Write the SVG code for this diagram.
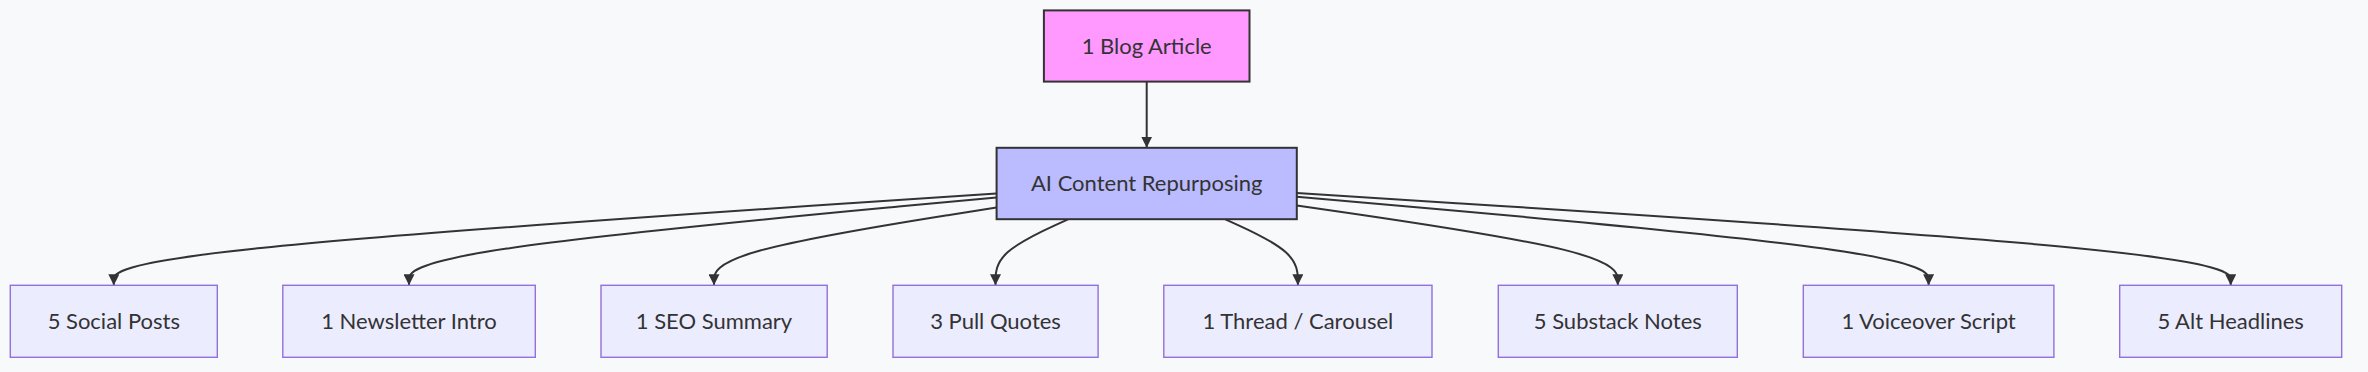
<svg xmlns="http://www.w3.org/2000/svg" width="2368" height="372" viewBox="0 0 2368 372">
<style>
  .lbl{font-family:Lato,"Liberation Sans",sans-serif;font-size:22px;fill:#333;text-anchor:middle}
  .leaf{fill:#ECECFF;stroke:#9370DB;stroke-width:1.4}
  .edge{fill:none;stroke:#333;stroke-width:2}
</style>
<defs>
  <marker id="arrow" viewBox="0 0 10 10" refX="10" refY="5" markerUnits="userSpaceOnUse" markerWidth="11" markerHeight="11" orient="auto">
    <path d="M0,0 L10,5 L0,10 z" fill="#333"/>
  </marker>
</defs>
<rect x="0" y="0" width="2368" height="372" fill="#f8f9fb"/>
<g id="edges">
  <path class="edge" marker-end="url(#arrow)" d="M1146.7,81.7 L1146.7,147.7"/>
  <path class="edge" marker-end="url(#arrow)" d="M996.5,193.5 L849.4,203.3 C702.3,213.1 408,232.7 260.9,248 C113.8,263.2 113.8,274.1 113.8,279.6 L113.8,285.3"/>
  <path class="edge" marker-end="url(#arrow)" d="M996.5,197.5 L898.6,206.6 C800.7,215.8 604.8,234 506.9,248.6 C409,263.2 409,274.1 409,279.6 L409,285.3"/>
  <path class="edge" marker-end="url(#arrow)" d="M996.5,207.4 L949.4,214.9 C902.3,222.4 808.2,237.3 761.1,250.3 C714,263.2 714,274.1 714,279.6 L714,285.3"/>
  <path class="edge" marker-end="url(#arrow)" d="M1068,219.3 L1055.9,224.8 C1043.8,230.3 1019.7,241.3 1007.6,252.3 C995.5,263.2 995.5,274.1 995.5,279.6 L995.5,285.3"/>
  <path class="edge" marker-end="url(#arrow)" d="M1225.4,219.3 L1237.5,224.8 C1249.6,230.3 1273.7,241.3 1285.8,252.3 C1297.9,263.2 1297.9,274.1 1297.9,279.6 L1297.9,285.3"/>
  <path class="edge" marker-end="url(#arrow)" d="M1296.8,205.4 L1350.3,213.2 C1403.8,221 1510.8,236.7 1564.3,249.9 C1617.8,263.2 1617.8,274.1 1617.8,279.6 L1617.8,285.3"/>
  <path class="edge" marker-end="url(#arrow)" d="M1296.8,196.7 L1402.1,206 C1507.4,215.2 1718,233.8 1823.3,248.5 C1928.6,263.2 1928.6,274.1 1928.6,279.6 L1928.6,285.3"/>
  <path class="edge" marker-end="url(#arrow)" d="M1296.8,193 L1452.5,202.9 C1608.1,212.8 1919.4,232.5 2075.1,247.9 C2230.7,263.2 2230.7,274.1 2230.7,279.6 L2230.7,285.3"/>
</g>
<g id="blog">
  <rect x="1043.9" y="10.4" width="205.6" height="71.2" fill="#ff99ff" stroke="#333" stroke-width="2"/>
  <text class="lbl" x="1146.7" y="53.5">1 Blog Article</text>
</g>
<g id="ai">
  <rect x="996.6" y="147.8" width="300.2" height="71.4" fill="#bbbbff" stroke="#333" stroke-width="2"/>
  <text class="lbl" x="1146.7" y="191">AI Content Repurposing</text>
</g>
<g id="social">
  <rect class="leaf" x="10.3" y="285.3" width="207" height="72"/>
  <text class="lbl" x="113.8" y="328.6">5 Social Posts</text>
</g>
<g id="newsletter">
  <rect class="leaf" x="282.8" y="285.3" width="252.5" height="72"/>
  <text class="lbl" x="409" y="328.6">1 Newsletter Intro</text>
</g>
<g id="seo">
  <rect class="leaf" x="601" y="285.3" width="226.2" height="72"/>
  <text class="lbl" x="714" y="328.6">1 SEO Summary</text>
</g>
<g id="quotes">
  <rect class="leaf" x="893" y="285.3" width="205.1" height="72"/>
  <text class="lbl" x="995.5" y="328.6">3 Pull Quotes</text>
</g>
<g id="thread">
  <rect class="leaf" x="1163.8" y="285.3" width="268.2" height="72"/>
  <text class="lbl" x="1297.9" y="328.6">1 Thread / Carousel</text>
</g>
<g id="substack">
  <rect class="leaf" x="1498.3" y="285.3" width="239" height="72"/>
  <text class="lbl" x="1617.8" y="328.6">5 Substack Notes</text>
</g>
<g id="voiceover">
  <rect class="leaf" x="1803.3" y="285.3" width="250.6" height="72"/>
  <text class="lbl" x="1928.6" y="328.6">1 Voiceover Script</text>
</g>
<g id="headlines">
  <rect class="leaf" x="2119.7" y="285.3" width="222" height="72"/>
  <text class="lbl" x="2230.7" y="328.6">5 Alt Headlines</text>
</g>
</svg>
